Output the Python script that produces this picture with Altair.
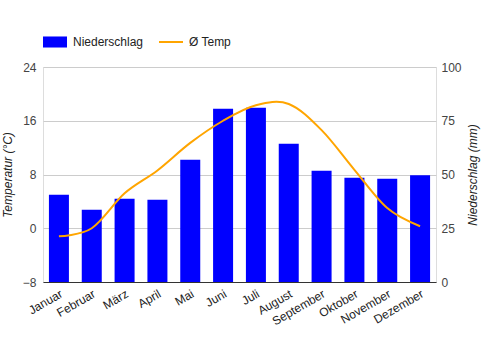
import altair as alt
import pandas as pd

months = ["Januar", "Februar", "März", "April", "Mai", "Juni", "Juli",
          "August", "September", "Oktober", "November", "Dezember"]
precip = [40.6, 33.6, 38.7, 38.3, 56.9, 80.6, 81.1, 64.3, 51.8, 48.5, 48.0, 49.6]
temp = [-1.2, 0.0, 5.2, 8.6, 12.7, 16.0, 18.3, 18.5, 14.6, 8.7, 3.0, 0.3]
temp_ticks = [-8, 0, 8, 16, 24]
precip_ticks = [0, 25, 50, 75, 100]

df = pd.DataFrame({"Monat": months, "precip": precip, "temp": temp,
                   "s1": "Niederschlag", "s2": "Ø Temp"})

FONT = "Liberation Sans"

x = alt.X("Monat:N", sort=months, title=None,
          scale=alt.Scale(paddingInner=0.39, paddingOuter=0.18),
          axis=alt.Axis(labelAngle=-30, labelAlign="right", labelBaseline="top",
                        labelPadding=6, ticks=False, domainColor="#333333",
                        domainWidth=1, labelColor="#222222", labelFontSize=12,
                        labelFont=FONT, grid=False))

bars = alt.Chart(df).mark_bar(size=20).encode(
    x=x,
    y=alt.Y("precip:Q", title="Niederschlag (mm)",
            scale=alt.Scale(domain=[0, 100], nice=False, zero=False),
            axis=alt.Axis(orient="right", values=precip_ticks, grid=False,
                          domain=False, ticks=False, labelPadding=5,
                          labelColor="#444444", labelFontSize=12, labelFont=FONT,
                          titleFontStyle="italic", titleFontWeight="normal",
                          titleFontSize=12, titleFont=FONT, titleColor="#222222",
                          titleAngle=270, titleBaseline="bottom", titlePadding=18)),
    color=alt.Color("s1:N", scale=alt.Scale(domain=["Niederschlag"], range=["#0000ff"]),
                    legend=alt.Legend(title=None, orient="none", legendX=-1, legendY=-38,
                                      symbolType="M-1,-0.46H1V0.46H-1Z", symbolSize=576,
                                      symbolOpacity=1, labelFontSize=12, labelFont=FONT,
                                      labelColor="#222222", labelOffset=5)),
)

line = alt.Chart(df).mark_line(interpolate="cardinal", strokeWidth=2).encode(
    x=x,
    y=alt.Y("temp:Q", title="Temperatur (°C)",
            scale=alt.Scale(domain=[-8, 24], nice=False, zero=False),
            axis=alt.Axis(orient="left", values=temp_ticks, grid=True,
                          gridColor="#cccccc", domain=False, ticks=False,
                          labelPadding=7, labelColor="#444444", labelFontSize=12,
                          labelFont=FONT, titleFontStyle="italic",
                          titleFontWeight="normal", titleFontSize=12, titleFont=FONT,
                          titleColor="#222222", titlePadding=8)),
    stroke=alt.Stroke("s2:N", scale=alt.Scale(domain=["Ø Temp"], range=["#ffa500"]),
                      legend=alt.Legend(title=None, orient="none", legendX=115, legendY=-38,
                                        symbolType="stroke", symbolSize=576,
                                        symbolStrokeWidth=2, labelFontSize=12,
                                        labelFont=FONT, labelColor="#222222",
                                        labelOffset=5)),
)

chart = alt.layer(bars, line).resolve_scale(
    y="independent", color="independent", stroke="independent"
).properties(
    width=393, height=215,
    autosize=alt.AutoSizeParams(type="none"),
    padding={"left": 43, "top": 67, "right": 45, "bottom": 68},
).configure_view(stroke=None).configure(background="white")

chart.save("out.html", embed_options={"renderer": "svg", "actions": False})
